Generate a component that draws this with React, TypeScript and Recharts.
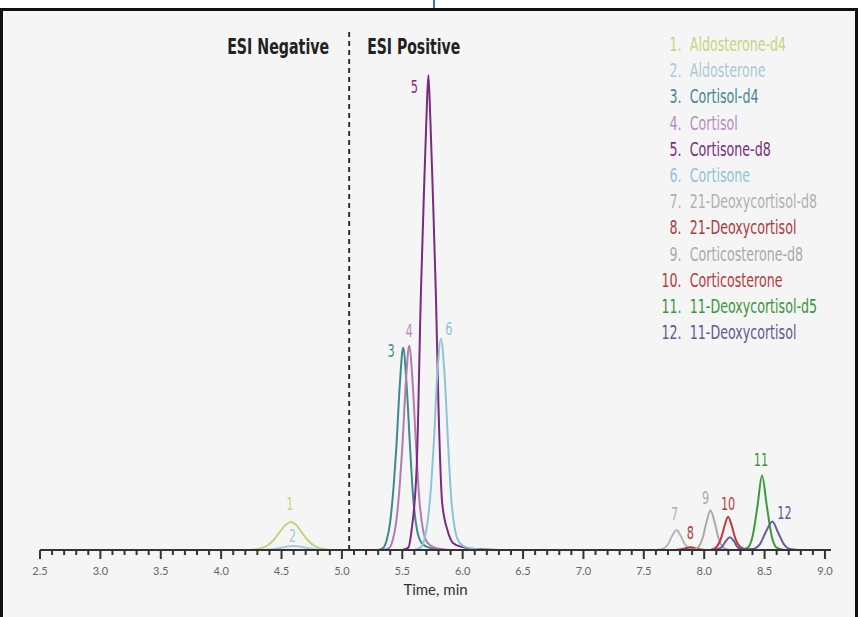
import { LineChart, Line, XAxis, YAxis, ReferenceLine, Legend } from 'recharts'

const NAMES = [
  'Aldosterone-d4',
  'Aldosterone',
  'Cortisol-d4',
  'Cortisol',
  'Cortisone-d8',
  'Cortisone',
  '21-Deoxycortisol-d8',
  '21-Deoxycortisol',
  'Corticosterone-d8',
  'Corticosterone',
  '11-Deoxycortisol-d5',
  '11-Deoxycortisol',
]

const LINE_COLORS = [
  '#c5d27a', '#a6cbdc', '#3e8a8e', '#b27cb0', '#7a2a80', '#8cc3d8',
  '#b7b7b7', '#b53a3c', '#a9a9a9', '#c0393d', '#3a9a3c', '#6b5c9c',
]

const TEXT_COLORS = [
  '#c9d47f', '#a9cad6', '#3f8a8e', '#b78cbf', '#7b2c80', '#8ec4d8',
  '#b0b0b0', '#b03a3a', '#aaaaaa', '#b83b3b', '#3a963a', '#5e5a8f',
]

// retention time (min) / relative intensity (% of peak 5)
const S1_T = [4.25, 4.32, 4.38, 4.43, 4.48, 4.53, 4.578, 4.62, 4.67, 4.72, 4.77, 4.83, 4.9]
const S1_I = [0, 0.3, 0.9, 2.0, 3.6, 5.2, 5.9, 5.3, 3.6, 2.0, 0.9, 0.3, 0]

const S2_T = [4.35, 4.45, 4.52, 4.6, 4.68, 4.75, 4.85]
const S2_I = [0, 0.2, 0.6, 0.85, 0.6, 0.2, 0]

const S3_T = [5.3, 5.34, 5.37, 5.4, 5.43, 5.45, 5.48, 5.507, 5.535, 5.565, 5.59, 5.62, 5.66, 5.72, 5.85]
const S3_I = [0, 0.4, 2, 6, 14, 21.3, 35, 42.6, 35, 21.3, 11, 4.5, 1.5, 0.5, 0]

const S4_T = [5.34, 5.39, 5.42, 5.45, 5.48, 5.5, 5.53, 5.557, 5.585, 5.615, 5.64, 5.67, 5.71, 5.77, 5.9]
const S4_I = [0, 0.4, 2, 6, 14, 21.5, 35.5, 43, 35.5, 21.5, 11, 4.5, 1.5, 0.5, 0]

const S5_T = [5.5, 5.55, 5.576, 5.62, 5.654, 5.679, 5.7, 5.716, 5.732, 5.753, 5.778, 5.8, 5.83, 5.876, 5.92, 6.0, 6.1, 6.3]
const S5_I = [0, 0.5, 4, 18, 54, 75, 91, 100, 91, 75, 54, 30, 10, 4, 1.5, 0.6, 0.2, 0]

const S6_T = [5.6, 5.65, 5.68, 5.71, 5.74, 5.76, 5.79, 5.82, 5.85, 5.88, 5.905, 5.935, 5.975, 6.04, 6.2]
const S6_I = [0, 0.5, 2, 6, 14, 22, 37, 44.5, 37, 22, 11, 4.5, 1.5, 0.5, 0]

const S7_T = [7.6, 7.66, 7.7, 7.735, 7.771, 7.805, 7.84, 7.88, 7.95]
const S7_I = [0, 0.3, 1.2, 3.0, 4.2, 3.0, 1.2, 0.3, 0]

const S8_T = [7.76, 7.82, 7.886, 7.95, 8.01]
const S8_I = [0, 0.2, 0.6, 0.2, 0]

const S9_T = [7.9, 7.95, 7.99, 8.02, 8.052, 8.085, 8.115, 8.155, 8.21]
const S9_I = [0, 0.6, 2.8, 6.0, 8.3, 6.0, 2.8, 0.6, 0]

const S10_T = [8.05, 8.1, 8.14, 8.17, 8.198, 8.227, 8.257, 8.3, 8.36]
const S10_I = [0, 0.6, 2.5, 5.2, 7.0, 5.2, 2.5, 0.6, 0]

const S11_T = [8.3, 8.36, 8.4, 8.44, 8.479, 8.52, 8.56, 8.6, 8.66]
const S11_I = [0, 0.5, 2.8, 9.0, 15.7, 9.0, 2.8, 0.5, 0]

const S12_T = [8.08, 8.14, 8.18, 8.212, 8.245, 8.28, 8.33, 8.4, 8.46, 8.51, 8.565, 8.61, 8.66, 8.71, 8.78]
const S12_I = [0, 0.5, 1.9, 2.7, 1.9, 0.5, 0.1, 0.2, 1.2, 3.8, 6.0, 3.8, 1.2, 0.2, 0]

const SERIES_T = [S1_T, S2_T, S3_T, S4_T, S5_T, S6_T, S7_T, S8_T, S9_T, S10_T, S11_T, S12_T]
const SERIES_I = [S1_I, S2_I, S3_I, S4_I, S5_I, S6_I, S7_I, S8_I, S9_I, S10_I, S11_I, S12_I]

// peak number label offset from apex (px)
const LABEL_OFFSETS = [
  [-1, -18], [-1, -10], [-12, 4], [0, -15], [-14, 12], [8, -9],
  [-2, -16], [0, -14], [-5, -12], [0, -13], [-1, -15], [12, -8],
]

const MAJOR_TICKS = [2.5, 3.0, 3.5, 4.0, 4.5, 5.0, 5.5, 6.0, 6.5, 7.0, 7.5, 8.0, 8.5, 9.0]
const MAJOR_LABELS = ['2.5', '3.0', '3.5', '4.0', '4.5', '5.0', '5.5', '6.0', '6.5', '7.0', '7.5', '8.0', '8.5', '9.0']

const SWITCH_TIME = 5.06

const ALL_TICKS: number[] = []
MAJOR_TICKS.forEach((m, i) => {
  ALL_TICKS.push(m)
  if (i < MAJOR_TICKS.length - 1) {
    for (let k = 1; k < 5; k++) ALL_TICKS.push(Math.round((m + k * 0.1) * 100) / 100)
  }
})

const NARROW = '"DejaVu Sans Condensed", "Liberation Sans Narrow", sans-serif'

function AxisTick(props: any) {
  const { x, y, payload } = props
  const idx = MAJOR_TICKS.findIndex((m) => Math.abs(m - payload.value) < 1e-6)
  const major = idx >= 0
  return (
    <g>
      <line x1={x} x2={x} y1={y} y2={y + (major ? 9 : 5)} stroke="#333" strokeWidth={2} />
      {major && (
        <text x={x} y={y + 25} textAnchor="middle" fill="#666" fontSize={11} fontFamily="Lato, sans-serif">
          {MAJOR_LABELS[idx]}
        </text>
      )}
    </g>
  )
}

function makePeakLabel(s: number) {
  const ys = SERIES_I[s]
  const apex = ys.indexOf(Math.max(...ys))
  return (props: any) => {
    const { x, y, index } = props
    if (index !== apex) return null
    const [dx, dy] = LABEL_OFFSETS[s]
    return (
      <text
        transform={`translate(${x + dx},${y + dy}) scale(0.7,1)`}
        textAnchor="middle"
        dominantBaseline="central"
        fill={TEXT_COLORS[s]}
        fontSize={18}
        fontFamily={NARROW}
      >
        {s + 1}
      </text>
    )
  }
}

function ChromLegend() {
  return (
    <div style={{ fontFamily: NARROW, fontSize: 19, width: 300, transform: 'scaleX(0.74)', transformOrigin: '0 0' }}>
      {NAMES.map((n, i) => (
        <div key={n} style={{ display: 'flex', height: 26.2, lineHeight: '26.2px', color: TEXT_COLORS[i], whiteSpace: 'nowrap' }}>
          <span style={{ width: 40, flexShrink: 0, textAlign: 'right' }}>{i + 1}.</span>
          <span style={{ marginLeft: 11, flexShrink: 0 }}>{n}</span>
        </div>
      ))}
    </div>
  )
}

export default function App() {
  const seriesData = SERIES_T.map((ts, s) => ts.map((t, k) => ({ t, y: SERIES_I[s][k] })))

  return (
    <div style={{ position: 'absolute', left: 0, top: 0, width: 858, height: 617, overflow: 'hidden', background: '#fff' }}>
      <div style={{ position: 'absolute', left: 433, top: 0, width: 2, height: 9, background: '#3a6fd0' }} />
      <div
        style={{
          position: 'absolute',
          left: 0,
          top: 8,
          width: 858,
          height: 620,
          boxSizing: 'border-box',
          border: '3px solid #111',
          background: '#f5f5f5',
        }}
      />
      <div style={{ position: 'absolute', left: 0, top: 0 }}>
        <LineChart width={858} height={617} margin={{ top: 30, right: 27, left: 40, bottom: 0 }}>
          <XAxis
            type="number"
            dataKey="t"
            domain={[2.5, 9.05]}
            ticks={ALL_TICKS}
            interval={0}
            tick={<AxisTick />}
            tickLine={false}
            tickSize={0}
            tickMargin={0}
            axisLine={{ stroke: '#333', strokeWidth: 2 }}
            height={67}
            allowDataOverflow
            label={{ value: 'Time, min', position: 'insideBottom', offset: 22, fill: '#333', fontSize: 15, fontFamily: 'Lato, sans-serif' }}
          />
          <YAxis hide type="number" domain={[0, 109.5]} allowDataOverflow />
          <ReferenceLine
            x={SWITCH_TIME}
            stroke="#333"
            strokeWidth={2}
            strokeDasharray="5 4"
            label={(p: any) => {
              const vb = p.viewBox
              return (
                <g fontFamily={NARROW} fontWeight="bold" fontSize={22} fill="#222">
                  <text x={vb.x - 20} y={54} textAnchor="end" textLength={102} lengthAdjust="spacingAndGlyphs">
                    ESI Negative
                  </text>
                  <text x={vb.x + 18} y={54} textLength={93} lengthAdjust="spacingAndGlyphs">
                    ESI Positive
                  </text>
                </g>
              )
            }}
          />
          {seriesData.map((d, s) => (
            <Line
              key={NAMES[s]}
              data={d}
              dataKey="y"
              name={NAMES[s]}
              type="monotone"
              stroke={LINE_COLORS[s]}
              strokeWidth={2}
              dot={false}
              label={makePeakLabel(s)}
              isAnimationActive={false}
            />
          ))}
          <Legend
            layout="vertical"
            align="center"
            verticalAlign="middle"
            content={() => <ChromLegend />}
            wrapperStyle={{ position: 'absolute', top: 31, left: 652, width: 200 }}
          />
        </LineChart>
      </div>
    </div>
  )
}
